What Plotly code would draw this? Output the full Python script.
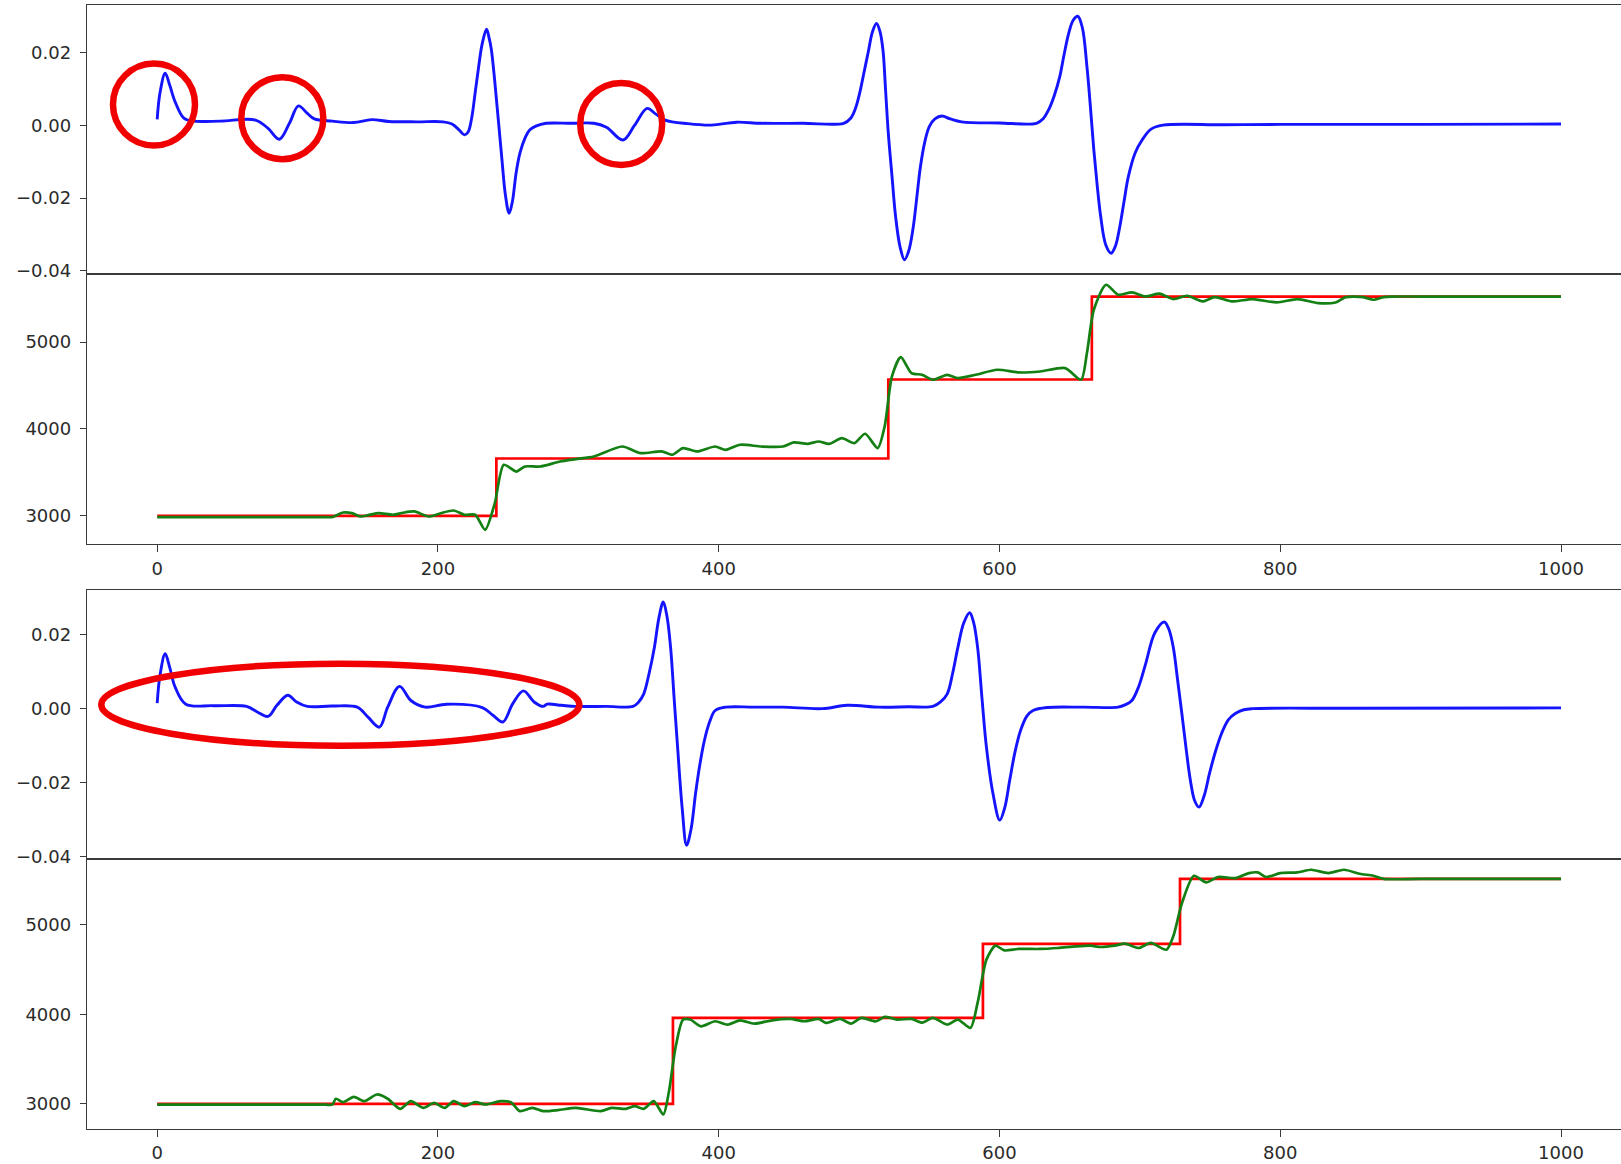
import plotly.graph_objects as go

# ---------------- data ----------------
# Panel 1 (top figure, control signal)
t_u1 = [0, 2, 5.7, 9, 12.8, 19, 25.5, 45, 70, 79, 87, 94.2, 100.6, 106.8, 112, 124.7, 140, 152.7, 165,
        185, 203.6, 210, 215, 218.9, 221.5, 224, 226.5, 229, 231.5, 234.6, 236.5, 238, 240, 241.7, 243.6,
        245.6, 248, 250.7, 253, 255.7, 258.5, 262, 265.5, 269.7, 277,
        295, 311, 320, 331.8, 340, 349, 355, 361.8, 378, 394.9, 412.7, 430, 460,
        489, 494, 497.5, 500.4, 503.6, 506.8, 509.5, 512.4, 514.8, 517, 518.9, 520.8, 523.4, 526, 529.2,
        532.3, 535.4, 538.6, 541.2, 543.7, 546.8, 550, 554, 559, 565, 573, 600,
        626.4, 631, 635, 639, 642.9, 646, 649.3, 652.5, 655.8, 659, 662.3, 664.8, 667.2, 669.6, 672.1,
        675.8, 679.5, 682.6, 685.7, 688.7, 691.8, 696.7, 701.6, 708, 716.4, 760, 800, 900, 1000]
u1 = [0.0017, 0.009, 0.0144, 0.011, 0.0065, 0.002, 0.0012, 0.0012, 0.0015, -0.0008, -0.0038, 0.0006,
      0.0054, 0.0034, 0.0018, 0.0012, 0.0008, 0.0016, 0.0011,
      0.001, 0.001, 0.0004, -0.0012, -0.0026, -0.0018, 0.002, 0.009, 0.0162, 0.0225, 0.0265, 0.024,
      0.021, 0.014, 0.007, -0.001,
      -0.0095, -0.019, -0.0242, -0.021, -0.013, -0.0075, -0.0035, -0.0012, -0.0002, 0.0006,
      0.0006, 0.0006, -0.0005, -0.004, 0.0, 0.0047, 0.0032, 0.0015, 0.0005, 0.0001, 0.0009, 0.0006, 0.0006,
      0.0006, 0.002, 0.0048, 0.0089, 0.0148, 0.0208, 0.0258, 0.0281, 0.026, 0.0208, 0.0095, -0.0021,
      -0.0138, -0.0251, -0.0335,
      -0.037, -0.0345, -0.0279, -0.0195, -0.0113, -0.0045, -0.0003, 0.0018, 0.0026, 0.0018, 0.001, 0.0007,
      0.0006, 0.0018, 0.0043, 0.0082, 0.0134, 0.0195, 0.0254, 0.029, 0.0301, 0.027, 0.0162, 0.005,
      -0.0067, -0.0165, -0.0251,
      -0.033, -0.0352, -0.0332, -0.0279, -0.021, -0.0141, -0.0075, -0.004, -0.001, 0.0001, 0.0002,
      0.0003, 0.0003, 0.0004]

# Panel 2 (top figure, setpoint and output)
t_sp1 = [0, 241.6, 520.8, 665.8, 1000]
sp1 = [3000, 3660, 4570, 5525, 5525]
t_y1 = [0, 30, 60, 90, 110, 120, 124.7, 132.4, 138.7, 145, 151, 157.8, 168, 175, 183.2, 193.4, 202, 211.2,
        218.9, 226.5,
        233.6, 240.5, 246.9, 255.7, 262, 272.8, 287, 298.2, 311, 331.3, 344, 359.3, 366.9, 374.6,
        384.6, 397.4, 405, 415.2, 430.5, 445.8, 453.4, 463.6, 471.2, 478.8, 487.7, 496.6, 504.3,
        513.2, 518.2, 523.4, 529.7, 537.3, 544.9, 552.6, 562.7, 570.4, 583.1, 598.4, 613.6, 629,
        646.8, 658.1, 662.3, 667.2, 675.9, 684.5, 694.3, 704.1, 714, 723.8, 733.6, 744.7, 753.3,
        765.6, 780.3, 797.5, 812.3, 827, 839.3, 846.7, 859, 866.3, 873.7, 880, 900, 940, 1000]
y1 = [2985, 2985, 2985, 2985, 2985, 2985, 2985, 3038, 3031, 2992, 3010, 3031, 3012, 3035, 3050, 2992,
      3030, 3061, 3012, 3012,
      2839, 3146, 3588, 3510, 3568, 3568, 3625, 3653, 3683, 3798, 3722, 3741, 3703, 3780,
      3741, 3798, 3760, 3818, 3798, 3798, 3845, 3829, 3856, 3829, 3895, 3837, 3945,
      3780, 4029, 4605, 4828, 4644, 4624, 4567, 4624, 4586, 4624, 4682, 4651, 4662,
      4701, 4567, 4874, 5373, 5661, 5546, 5573, 5526, 5558, 5496, 5534, 5469, 5519,
      5469, 5496, 5457, 5496, 5450, 5457, 5519, 5519, 5488, 5519, 5525, 5525, 5525, 5525]

# Panel 3 (bottom figure, control signal)
t_u2 = [0, 2, 5.7, 9, 12.8, 20.4, 40, 63.7, 71.3, 79, 85.3, 93, 99.3, 106.9, 124.7, 142.5, 150.2,
        158.3, 164.2, 172.6, 180.7, 190.9, 206, 231.6, 239.2, 246.3, 253.2, 260.9, 268.5, 274.9,
        277.8, 288, 298.2, 320, 339, 343, 346.6, 350.4, 354.2, 357.4, 360.5, 363.1, 365.7, 368.2, 370.7,
        374, 377.1, 380.3, 383.5, 386.6, 389.8, 393.6, 397.5, 405,
        425, 445.7, 473.7, 491.5, 514.5, 535, 552.6, 558, 562.8, 566.6, 570.4, 574.6, 578.8, 581.6, 584.4,
        587.5, 590.7, 595.4, 600.2, 603.7, 607.3, 611, 615, 619.5,
        623.9, 634, 660, 684.5, 689.4, 694.3, 699.2, 704.1, 710.7, 717.4, 720.6, 723.8, 726.8, 729.9, 733,
        736, 739, 742.1, 745.8, 749.6, 753.9, 758.2, 763, 768, 774, 780.3, 850, 1000]
u2 = [0.0015, 0.009, 0.0148, 0.011, 0.0058, 0.0012, 0.0008, 0.0006, -0.0009, -0.0021, 0.0009, 0.0036,
      0.0018, 0.0006, 0.0007, 0.0004, -0.0023,
      -0.005, 0.0004, 0.006, 0.0022, 0.0004, 0.0012, 0.0003, -0.0018, -0.0036, 0.0013, 0.0048, 0.0018,
      0.0006,
      0.0012, 0.0009, 0.0006, 0.0006, 0.0006, 0.0018, 0.004, 0.0095, 0.0166, 0.0245, 0.0288, 0.025,
      0.0166, 0.003, -0.0104,
      -0.027, -0.0369, -0.0325, -0.0229, -0.015, -0.0086, -0.0035, -0.0005, 0.0004,
      0.0004, 0.0004, 0.0, 0.0009, 0.0004, 0.0005, 0.0006, 0.0018, 0.004, 0.0095, 0.0166, 0.0232,
      0.0259, 0.0232, 0.0166,
      0.003, -0.0104, -0.023, -0.0301, -0.0268, -0.0193, -0.0118, -0.0059, -0.002,
      -0.0005, 0.0003, 0.0004, 0.0004, 0.001, 0.0022, 0.006, 0.0121, 0.0205, 0.0234, 0.0215, 0.0166,
      0.008, -0.0013, -0.011,
      -0.0194, -0.0248, -0.0266, -0.0235, -0.0175, -0.0115, -0.0067, -0.003, -0.0013, -0.0003, 0.0,
      0.0001, 0.0002]

# Panel 4 (bottom figure, setpoint and output)
t_sp2 = [0, 367.4, 588.2, 728.6, 1000]
sp2 = [3000, 3960, 4785, 5510, 5510]
t_y2 = [0, 30, 60, 90, 110, 120, 124.7, 127.3, 132.4, 140, 147.6, 156.5, 164.2, 173.1, 180.7, 189.6,
        197.2, 204.8, 211.2,
        218.8, 226.5, 234.1, 244.3, 251.9, 258.3, 267.2, 274.9, 285.5, 298.2, 316, 323.6, 333.8,
        340.2, 346.6, 353.7, 360.5, 364.4, 369.4, 374.6, 379.7, 387.3, 397.5, 406.3, 415.2, 425.4,
        438.1, 450.9, 461.1, 471.2, 476.3, 486.5, 494.1, 501.7, 511.9, 518.2, 527.1, 537.3, 545,
        552.6, 562.7, 570.4, 579.3, 584.4, 590.7, 597.1, 603.4, 613.6, 628.9, 641.6, 654.3, 664.8,
        672.1, 682, 689.4, 699.2, 707.8, 718.9, 723.8, 730, 738.5, 747.2, 755.7, 768, 777.8, 784,
        790.1, 800, 812.3, 822, 834.3, 845.4, 856.5, 866.3, 873.7, 900, 940, 1000]
y2 = [2990, 2990, 2990, 2990, 2990, 2990, 2990, 3056, 3018, 3078, 3029, 3104, 3056, 2944, 3029, 2955,
      3011, 2955, 3029,
      2973, 3018, 2992, 3029, 3018, 2918, 2955, 2918, 2929, 2955, 2918, 2955, 2944,
      2973, 2944, 3029, 2881, 3123, 3642, 3940, 3940, 3865, 3921, 3884, 3932, 3895,
      3932, 3947, 3921, 3947, 3903, 3947, 3895, 3959, 3921, 3970, 3940, 3947, 3906,
      3959, 3884, 3940, 3847, 4126, 4609, 4765, 4712, 4728, 4728, 4739, 4757, 4765,
      4750, 4765, 4787, 4739, 4795, 4720, 4869, 5241, 5545, 5470, 5531, 5519, 5575, 5582,
      5531, 5575, 5582, 5612, 5575, 5612, 5567, 5545, 5510, 5510, 5510, 5510]

x_ticks = [0, 200, 400, 600, 800, 1000]
x_tick_text = ["0", "200", "400", "600", "800", "1000"]
u_ticks = [-0.04, -0.02, 0.0, 0.02]
u_tick_text = ["\u22120.04", "\u22120.02", "0.00", "0.02"]
v_ticks = [3000, 4000, 5000]
v_tick_text = ["3000", "4000", "5000"]

# ---------------- figure ----------------
W, H = 1621, 1164
SY = 1.0065  # vertical calibration of measured pixel rows
BLUE = "rgb(20,20,255)"
GREEN = "rgb(20,128,20)"
RED = "rgb(255,0,0)"
AX = "#3a3a3a"
FONT = dict(family="DejaVu Sans", size=18, color="#2b2b2b")


def py(p):
    return 1 - (p * SY) / H


def px(p):
    return p / W


fig = go.Figure()
fig.add_trace(go.Scatter(x=t_u1, y=u1, mode="lines", line=dict(color=BLUE, width=2.9, shape="spline", smoothing=1.0),
                         xaxis="x", yaxis="y", showlegend=False))
fig.add_trace(go.Scatter(x=t_sp1, y=sp1, mode="lines", line=dict(color=RED, width=2.7, shape="hv"),
                         xaxis="x2", yaxis="y2", showlegend=False))
fig.add_trace(go.Scatter(x=t_y1, y=y1, mode="lines", line=dict(color=GREEN, width=2.7, shape="spline", smoothing=0.7),
                         xaxis="x2", yaxis="y2", showlegend=False))
fig.add_trace(go.Scatter(x=t_u2, y=u2, mode="lines", line=dict(color=BLUE, width=2.9, shape="spline", smoothing=1.0),
                         xaxis="x3", yaxis="y3", showlegend=False))
fig.add_trace(go.Scatter(x=t_sp2, y=sp2, mode="lines", line=dict(color=RED, width=2.7, shape="hv"),
                         xaxis="x4", yaxis="y4", showlegend=False))
fig.add_trace(go.Scatter(x=t_y2, y=y2, mode="lines", line=dict(color=GREEN, width=2.7, shape="spline", smoothing=0.7),
                         xaxis="x4", yaxis="y4", showlegend=False))

x_range = [-50, (W - 157) / 1.404]
x_dom = [px(87), 1]

panels = [  # (top px, bottom px, y range)
    (5, 274, [-0.0409, 0.0332]),
    (274, 544, [2678, 5786]),
    (590, 859, [-0.0405, 0.0321]),
    (859, 1129, [2724, 5736]),
]

layout = dict(width=W, height=H, margin=dict(l=0, r=0, t=0, b=0),
              paper_bgcolor="white", plot_bgcolor="white", font=FONT, showlegend=False)

for i, (top, bot, yr) in enumerate(panels):
    k = "" if i == 0 else str(i + 1)
    is_u = i in (0, 2)
    layout["xaxis" + k] = dict(
        domain=x_dom, range=x_range, anchor="y" + k, showline=True, mirror=True,
        linecolor=AX, linewidth=1.4, showgrid=False, zeroline=False,
        ticks="" if is_u else "outside", showticklabels=not is_u,
        tickvals=x_ticks, ticktext=x_tick_text, ticklen=7, tickwidth=1.3, tickcolor=AX,
        ticklabelstandoff=1, tickfont=FONT)
    layout["yaxis" + k] = dict(
        domain=[py(bot), py(top)], range=yr, anchor="x" + k, showline=True,
        linecolor=AX, linewidth=1.4, showgrid=False, zeroline=False,
        ticks="outside", ticklen=6, tickwidth=1.3, tickcolor=AX,
        tickvals=u_ticks if is_u else v_ticks, ticktext=u_tick_text if is_u else v_tick_text,
        ticklabelstandoff=5, tickfont=FONT)

fig.update_layout(**layout)

# red hand-drawn highlight marks (paper coordinates from pixel positions)
marks = [(154, 104.5, 41, 41), (282.3, 118.2, 41, 41), (621.2, 124, 41, 41), (340.3, 705, 239, 41)]
for cx, cy, rx, ry in marks:
    fig.add_shape(type="circle", xref="paper", yref="paper",
                  x0=px(cx - rx), x1=px(cx + rx), y0=py(cy + ry), y1=py(cy - ry),
                  line=dict(color="rgb(240,0,0)", width=6.5), layer="above")

fig.write_html("out.html")
